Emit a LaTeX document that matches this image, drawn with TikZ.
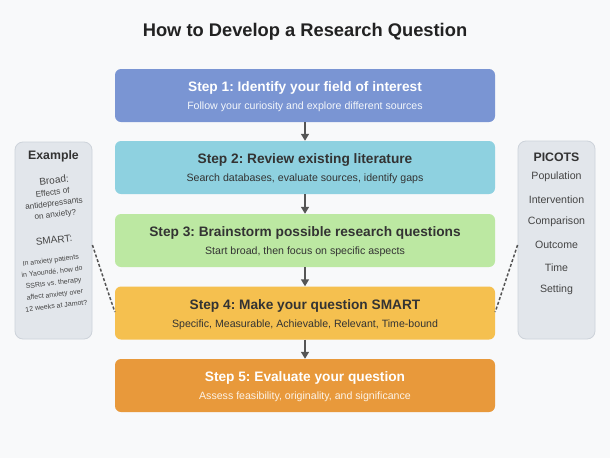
\documentclass[tikz,border=0pt]{standalone}
\usepackage{fontspec}
\setmainfont{Liberation Sans}
\usetikzlibrary{arrows.meta}
\frenchspacing
\definecolor{bgc}{HTML}{F8F9FA}
\definecolor{titlec}{HTML}{222222}
\definecolor{darkt}{HTML}{333333}
\definecolor{c1}{HTML}{7A95D3}
\definecolor{c2}{HTML}{8ED1E0}
\definecolor{c3}{HTML}{BCE8A2}
\definecolor{c4}{HTML}{F5C04F}
\definecolor{c5}{HTML}{E8993B}
\definecolor{sidefill}{HTML}{E2E6EB}
\definecolor{sidedraw}{HTML}{CDD3DA}
\definecolor{arrc}{HTML}{555555}
\definecolor{sidet}{HTML}{444444}
\tikzset{
  stepbox/.style={rounded corners=6pt, minimum width=380pt, minimum height=53pt, inner sep=0pt, draw=none},
  steptitle/.style={font=\bfseries\fontsize{13.7}{16}\selectfont, inner sep=0pt},
  stepsub/.style={font=\fontsize{10.6}{12}\selectfont, inner sep=0pt},
  sidebox/.style={rounded corners=8pt, fill=sidefill, draw=sidedraw, line width=0.8pt, minimum width=77pt, inner sep=0pt},
  sidehead/.style={font=\bfseries\fontsize{12.3}{14}\selectfont, text=darkt, inner sep=0pt},
  sideitem/.style={font=\fontsize{10.6}{12}\selectfont, text=sidet, inner sep=0pt},
  exlabel/.style={font=\fontsize{10}{12}\selectfont, text=sidet, inner sep=0pt, rotate=7},
  flowarr/.style={draw=arrc, line width=1.5pt, -{Triangle[length=7pt,width=8pt]}},
  linkline/.style={draw=arrc, line width=1.5pt, dash pattern=on 3pt off 2pt},
}
\begin{document}
\begin{tikzpicture}[x=1pt,y=-1pt]
\fill[bgc] (0,0) rectangle (610,458);
\useasboundingbox (0,0) rectangle (610,458);

\node[font=\bfseries\fontsize{18.3}{21}\selectfont, text=titlec] (title) at (305,32) {How to Develop a Research Question};

% step boxes
\node[stepbox, fill=c1] (s1) at (305,95.5) {};
\node[stepbox, fill=c2] (s2) at (305,167.5) {};
\node[stepbox, fill=c3] (s3) at (305,240.5) {};
\node[stepbox, fill=c4] (s4) at (305,313) {};
\node[stepbox, fill=c5] (s5) at (305,385.5) {};

\node[steptitle, text=white] (t1) at (305,88) {Step 1: Identify your field of interest};
\node[stepsub, text=white!92!c1] (u1) at (305,107) {Follow your curiosity and explore different sources};
\node[steptitle, text=darkt] (t2) at (305,160) {Step 2: Review existing literature};
\node[stepsub, text=darkt] (u2) at (305,179) {Search databases, evaluate sources, identify gaps};
\node[steptitle, text=darkt] (t3) at (305,233) {Step 3: Brainstorm possible research questions};
\node[stepsub, text=darkt] (u3) at (305,252) {Start broad, then focus on specific aspects};
\node[steptitle, text=darkt] (t4) at (305,306) {Step 4: Make your question SMART};
\node[stepsub, text=darkt] (u4) at (305,325) {Specific, Measurable, Achievable, Relevant, Time-bound};
\node[steptitle, text=white] (t5) at (305,378) {Step 5: Evaluate your question};
\node[stepsub, text=white!88!c5] (u5) at (305,397) {Assess feasibility, originality, and significance};

\draw[flowarr] (s1.south) -- (s2.north);
\draw[flowarr] (s2.south) -- (s3.north);
\draw[flowarr] (s3.south) -- (s4.north);
\draw[flowarr] (s4.south) -- (s5.north);

% side boxes
\node[sidebox, minimum height=197pt] (ex) at (53.5,240.5) {};
\node[sidebox, minimum height=198pt] (pc) at (556.5,240) {};

\node[sidehead] (exh) at (53.5,156) {Example};
\node[exlabel] (br) at (54,180) {Broad:};
\node[font=\fontsize{8.2}{11}\selectfont, text=sidet, inner sep=0pt, align=center, rotate=7] (brt) at (54,204) {Effects of\\antidepressants\\on anxiety?};
\node[exlabel] (sm) at (54,240) {SMART:};
\node[font=\fontsize{7}{11.5}\selectfont, text=sidet, inner sep=0pt, align=center, rotate=7] (smt) at (53.5,283) {In anxiety patients\\in Yaoundé, how do\\SSRIs vs. therapy\\affect anxiety over\\12 weeks at Jamot?};

\node[sidehead] (pch) at (556.5,157) {PICOTS};
\node[sideitem] (p1) at (556.5,177) {Population};
\node[sideitem] (p2) at (556.5,200) {Intervention};
\node[sideitem] (p3) at (556.5,222) {Comparison};
\node[sideitem] (p4) at (556.5,245) {Outcome};
\node[sideitem] (p5) at (556.5,268) {Time};
\node[sideitem] (p6) at (556.5,290) {Setting};

\draw[linkline] ([yshift=-4.5pt]ex.east) -- ([yshift=1pt]s4.west);
\draw[linkline] ([yshift=-5pt]pc.west) -- ([yshift=1pt]s4.east);
\end{tikzpicture}
\end{document}
